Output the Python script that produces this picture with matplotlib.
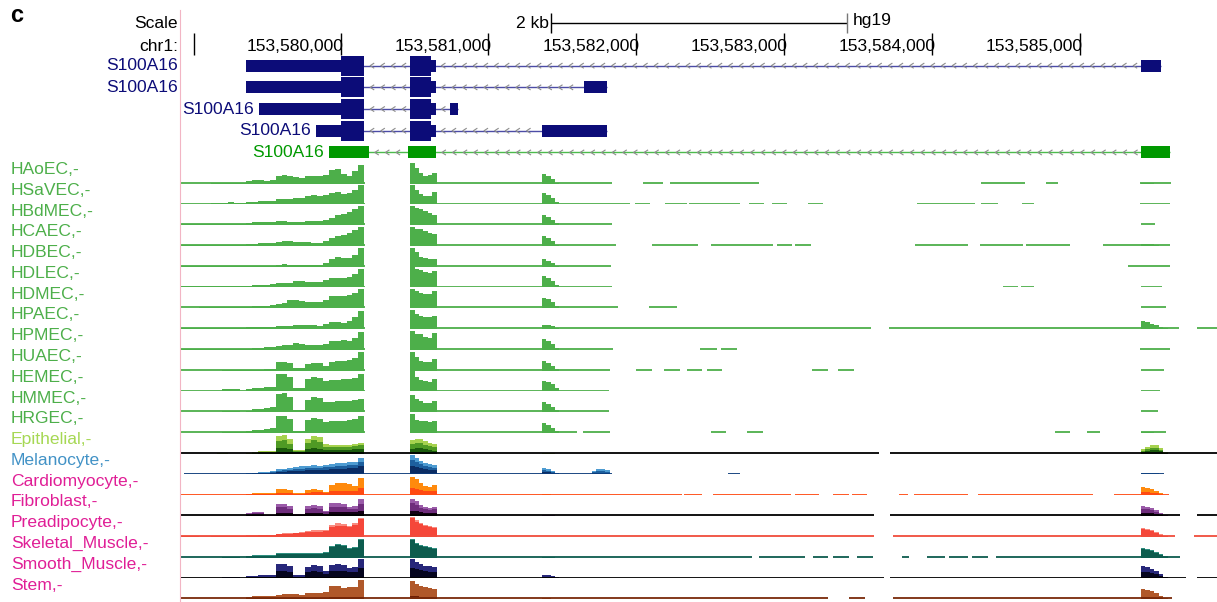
import numpy as np
import matplotlib.pyplot as plt
from matplotlib.collections import LineCollection

plt.rcParams["font.family"] = ["Liberation Sans", "DejaVu Sans"]

# browser window on chr1 (hg19)
WIN_START = 153578913
WIN_END = 153585929
ORIGIN = 153580000          # baseline runs below are bp offsets from here

ruler_ticks = [153580000, 153581000, 153582000, 153583000, 153584000, 153585000]
window_mark = 153579005
scale_bar_start = 153581424
scale_bar_len = 2000

# S100A16 transcripts (UTR / coding blocks)
tx_names = ["S100A16", "S100A16", "S100A16", "S100A16", "S100A16"]
tx_utr = [
    [(153579358, 153580000), (153580610, 153580642), (153585418, 153585550)],
    [(153579358, 153580000), (153580610, 153580642), (153581646, 153581805)],
    [(153579447, 153580000), (153580610, 153580642), (153580740, 153580792)],
    [(153579833, 153580000), (153580610, 153580642), (153581359, 153581805)],
    [(153579921, 153580191), (153580455, 153580645), (153585418, 153585611)],
]
tx_cds = [
    [(153580000, 153580160), (153580468, 153580610)],
    [(153580000, 153580160), (153580468, 153580610)],
    [(153580000, 153580160), (153580468, 153580610)],
    [(153580000, 153580160), (153580468, 153580610)],
    [],
]

endothelial = ["HAoEC", "HSaVEC", "HBdMEC", "HCAEC", "HDBEC", "HDLEC", "HDMEC",
               "HPAEC", "HPMEC", "HUAEC", "HEMEC", "HMMEC", "HRGEC"]
other_cells = ["Epithelial", "Melanocyte", "Cardiomyocyte", "Fibroblast",
               "Preadipocyte", "Skeletal_Muscle", "Smooth_Muscle", "Stem"]

# coverage bins: first bin start, bin size (bp)
bins = {
    "exon1": (153578920, 40),
    "exon2": (153580470, 30),
    "exon3": (153581360, 30),
    "tail": (153585415, 30),
    "extra": (153581700, 30),
}

exon1 = {
    "HAoEC": [0, 0, 0, 0, 0, 1, 1, 1, 1, 0.5, 1, 3, 4, 4, 3, 4, 8, 9, 8, 7, 6, 8, 8, 8, 9, 13, 14, 10, 8, 12, 18],
    "HSaVEC": [0, 0, 0, 0, 0.5, 1, 1, 1, 2, 1, 1, 2, 2, 3, 3, 3, 5, 5, 5, 6, 6, 8, 9, 8, 9, 11, 12, 10, 11, 14, 19],
    "HBdMEC": [1, 1, 1, 1, 1, 1, 1, 1, 1, 1, 1, 2, 3, 3, 3, 3, 4, 4, 3, 3, 3, 4, 4, 4, 5, 7, 10, 11, 13, 16, 19],
    "HCAEC": [1, 1, 1, 1, 1, 1, 1, 1, 1, 1, 1, 2, 2, 3, 3, 3, 4, 5, 5, 4, 4, 4, 3, 3, 5, 8, 10, 11, 13, 16, 19],
    "HDBEC": [1, 1, 1, 1, 1, 1, 1, 1, 1, 1, 1, 1, 1, 1, 1, 1, 2, 3, 2, 2, 2, 2, 2, 2, 4, 8, 10, 9, 9, 12, 19],
    "HDLEC": [1, 1, 1, 1, 1, 1, 1, 1, 1, 1, 1, 1, 2, 2, 2, 3, 4, 4, 4, 6, 6, 5, 5, 5, 7, 9, 9, 9, 10, 13, 18],
    "HDMEC": [0, 0, 0.5, 1, 1, 1, 1, 1, 1, 1, 1, 1, 2, 2, 2, 3, 4, 5, 8, 8, 7, 6, 6, 6, 8, 12, 12, 12, 13, 15, 19],
    "HPAEC": [1, 1, 1, 1, 1, 1, 1, 1, 1, 1, 1, 2, 2, 2, 2, 2, 3, 3, 3, 4, 4, 4, 4, 3, 5, 7, 7, 6, 8, 12, 18],
    "HPMEC": [1, 1, 1, 1, 1, 1, 1, 1, 1, 1, 1, 1, 2, 2, 3, 3, 4, 5, 5, 7, 6, 5, 5, 5, 6, 9, 9, 10, 9, 12, 18],
    "HUAEC": [0, 0, 0, 0, 0, 0, 0, 1, 1, 1, 1, 1, 1, 1, 2, 2, 9, 9, 8, 3, 3, 7, 8, 8, 5, 9, 10, 10, 11, 13, 19],
    "HEMEC": [0, 0, 0, 0, 0, 0, 0, 2, 2, 2, 0.5, 2, 3, 3, 4, 4, 17, 17, 14, 3, 3, 12, 14, 13, 10, 11, 11, 12, 12, 13, 17],
    "HMMEC": [0, 0, 0, 0, 0, 0, 0, 1, 1, 1, 0.5, 1, 3, 3, 4, 5, 18, 19, 15, 2, 2, 12, 15, 14, 10, 10, 11, 11, 11, 12, 13],
    "HRGEC": [0, 0, 0, 0, 0, 0, 0, 1, 1, 1, 1, 2, 3, 3, 4, 5, 17, 17, 14, 2, 2, 13, 15, 14, 11, 12, 12, 12, 13, 14, 17],
    "Epithelial": [
        [0, 0, 0, 0, 0, 0, 1, 1, 0, 0, 0, 1, 2, 3, 3, 3, 18, 19, 15, 4, 4, 15, 18, 17, 10, 9, 9, 9, 9, 10, 11],
        [0, 0, 0, 0, 0, 0, 0, 0, 0, 0, 0, 0, 1, 2, 2, 2, 13, 14, 10, 3, 3, 11, 14, 12, 7, 7, 7, 7, 7, 8, 9],
        [0, 0, 0, 0, 0, 0, 0, 0, 0, 0, 0, 0, 0, 1, 1, 1, 6, 6, 5, 2, 2, 5, 6, 5, 4, 4, 4, 4, 4, 5, 5]],
    "Melanocyte": [
        [0, 0, 0, 0, 0, 0, 0, 0, 0, 0, 0, 1, 1, 2, 2, 3, 5, 5, 6, 7, 8, 8, 9, 8, 9, 10, 11, 11, 12, 12, 16],
        [0, 0, 0, 0, 0, 0, 0, 0, 0, 0, 0, 0, 1, 1, 1, 2, 3, 4, 4, 5, 5, 6, 6, 6, 7, 7, 8, 8, 9, 9, 12],
        [0, 0, 0, 0, 0, 0, 0, 0, 0, 0, 0, 0, 0, 1, 1, 1, 2, 2, 3, 3, 3, 4, 4, 4, 4, 5, 5, 5, 6, 6, 8]],
    "Cardiomyocyte": [
        [0, 0, 0, 0, 0, 0, 0, 0, 0, 0, 0, 1, 2, 2, 2, 2, 6, 6, 5, 2, 2, 5, 6, 5, 3, 10, 12, 12, 11, 9, 17],
        [0, 0, 0, 0, 0, 0, 0, 0, 0, 0, 0, 1, 1, 1, 1, 1, 2, 2, 2, 1, 1, 2, 3, 3, 2, 4, 4, 4, 4, 4, 7]],
    "Fibroblast": [
        [0, 0, 0, 0, 0, 0, 0, 0, 0, 0, 0, 3, 4, 4, 1, 1, 12, 12, 10, 2, 2, 10, 11, 10, 5, 13, 13, 12, 9, 10, 17],
        [0, 0, 0, 0, 0, 0, 0, 0, 0, 0, 0, 2, 3, 3, 1, 1, 9, 9, 7, 2, 2, 7, 8, 7, 4, 9, 9, 9, 7, 7, 12],
        [0, 0, 0, 0, 0, 0, 0, 0, 0, 0, 0, 1, 1, 1, 0, 0, 3, 3, 3, 1, 1, 3, 3, 3, 2, 4, 4, 4, 4, 4, 5]],
    "Preadipocyte": [
        [1, 1, 1, 1, 1, 1, 1, 1, 1, 1, 1, 2, 2, 2, 2, 2, 3, 4, 4, 4, 5, 6, 7, 7, 7, 12, 14, 13, 11, 14, 19],
        [1, 1, 1, 0, 0, 1, 1, 1, 1, 1, 1, 1, 1, 2, 2, 2, 3, 3, 3, 4, 4, 5, 5, 5, 6, 10, 11, 11, 10, 12, 18]],
    "Skeletal_Muscle": [
        [0, 0, 0, 0, 0, 0, 0, 1, 1, 1, 0, 2, 3, 3, 3, 3, 5, 5, 5, 5, 5, 5, 5, 5, 6, 12, 14, 13, 10, 11, 19],
        [0, 0, 0, 0, 0, 0, 0, 1, 1, 1, 0, 2, 2, 2, 2, 2, 4, 4, 4, 4, 4, 4, 4, 4, 5, 11, 13, 12, 9, 10, 18]],
    "Smooth_Muscle": [
        [0, 0, 0, 0, 0, 0, 0, 1, 1, 1, 0, 2, 2, 3, 3, 3, 14, 14, 12, 3, 3, 11, 13, 12, 7, 13, 14, 13, 10, 11, 19],
        [0, 0, 0, 0, 0, 0, 0, 0, 0, 0, 0, 1, 1, 1, 1, 1, 7, 7, 6, 1, 1, 6, 7, 6, 4, 7, 7, 7, 6, 6, 10]],
    "Stem": [
        [0, 0, 0, 0, 0, 0, 0, 0, 0, 0, 0, 2, 3, 3, 3, 3, 4, 5, 5, 5, 4, 6, 6, 6, 7, 13, 13, 11, 12, 12, 19],
        [0, 0, 0, 0, 0, 0, 0, 0, 0, 0, 0, 1, 1, 1, 1, 1, 1, 1, 1, 1, 1, 1, 1, 1, 1, 2, 2, 2, 2, 2, 2]],
}

exon2 = {
    "HAoEC": [20, 15, 11, 8, 9, 11],
    "HSaVEC": [19, 14, 10, 8, 8, 12],
    "HBdMEC": [19, 17, 16, 14, 12, 10],
    "HCAEC": [19, 17, 17, 15, 13, 12],
    "HDBEC": [19, 15, 10, 9, 8, 8],
    "HDLEC": [20, 18, 17, 15, 14, 16],
    "HDMEC": [19, 17, 15, 14, 14, 17],
    "HPAEC": [19, 15, 13, 12, 12, 13],
    "HPMEC": [19, 16, 16, 13, 12, 17],
    "HUAEC": [19, 14, 10, 9, 9, 12],
    "HEMEC": [20, 14, 11, 10, 9, 12],
    "HMMEC": [17, 13, 11, 9, 9, 11],
    "HRGEC": [19, 13, 12, 12, 11, 12],
    "Epithelial": [[14, 15, 15, 13, 11, 10], [10, 11, 11, 9, 8, 7], [5, 6, 6, 5, 4, 3]],
    "Melanocyte": [[19, 16, 13, 11, 10, 9], [14, 12, 10, 8, 7, 6], [8, 7, 6, 5, 4, 4]],
    "Cardiomyocyte": [[18, 16, 12, 9, 8, 10], [7, 6, 5, 4, 4, 4]],
    "Fibroblast": [[17, 15, 11, 9, 8, 9], [13, 11, 8, 7, 6, 7], [5, 5, 4, 3, 3, 3]],
    "Preadipocyte": [[20, 17, 14, 12, 11, 10], [19, 15, 13, 11, 10, 9]],
    "Skeletal_Muscle": [[19, 15, 13, 12, 11, 10], [18, 14, 12, 11, 10, 9]],
    "Smooth_Muscle": [[19, 16, 14, 12, 12, 11], [10, 9, 8, 7, 6, 6]],
    "Stem": [[18, 15, 13, 12, 11, 10], [3, 3, 2, 2, 2, 2]],
}

exon3 = {
    "HAoEC": [10, 8, 5, 1],
    "HSaVEC": [11, 9, 6, 2],
    "HBdMEC": [10, 8, 5, 2],
    "HCAEC": [10, 8, 5, 1],
    "HDBEC": [8, 6, 4, 1],
    "HDLEC": [11, 9, 6, 2],
    "HDMEC": [10, 9, 6, 2],
    "HPAEC": [4, 4, 3, 1],
    "HPMEC": [11, 9, 6, 2],
    "HUAEC": [10, 8, 5, 2],
    "HEMEC": [10, 9, 7, 3],
    "HMMEC": [10, 8, 5, 2],
    "HRGEC": [10, 8, 5, 2],
    "Epithelial": [[1, 1, 1, 0]],
    "Melanocyte": [[6, 5, 3, 1], [4, 3, 2, 1], [2, 2, 1, 0]],
    "Cardiomyocyte": [[1, 1, 0, 0]],
    "Fibroblast": [[1, 1, 1, 0]],
    "Skeletal_Muscle": [[1, 1, 1, 0]],
    "Smooth_Muscle": [[3, 3, 2, 1], [1, 1, 1, 0]],
    "Stem": [[1, 1, 0, 0]],
}

tail = {
    "HAoEC": [1, 1, 1, 0, 0, 0],
    "HCAEC": [2, 2, 2, 1, 0, 0],
    "HPAEC": [8, 7, 5, 4, 2, 1],
    "HRGEC": [1, 1, 1, 0, 0, 0],
    "Epithelial": [[5, 7, 9, 9, 6, 2], [3, 5, 6, 6, 4, 1], [2, 3, 4, 4, 3, 1]],
    "Melanocyte": [[1, 1, 1, 1, 0, 0]],
    "Cardiomyocyte": [[8, 7, 6, 4, 2, 0], [3, 3, 2, 2, 1, 0]],
    "Fibroblast": [[10, 9, 8, 6, 3, 1], [7, 7, 6, 4, 2, 1], [3, 3, 3, 2, 1, 0]],
    "Preadipocyte": [[9, 8, 7, 5, 3, 1], [8, 7, 6, 4, 2, 1]],
    "Skeletal_Muscle": [[10, 9, 8, 6, 4, 2], [9, 8, 7, 5, 3, 1]],
    "Smooth_Muscle": [[12, 11, 9, 7, 4, 1], [6, 6, 5, 4, 2, 1]],
    "Stem": [[10, 9, 8, 6, 3, 1], [2, 2, 1, 1, 1, 0]],
}

extra = {
    "Melanocyte": [[3, 5, 5, 4], [2, 3, 3, 2]],
}

# stretches where a track has (near-zero) coverage
runs = {
    "HAoEC": [(-1080, 166), (469, 1835), (2045, 2181), (2228, 2830), (4333, 4631), (4772, 4854), (5408, 5618)],
    "HSaVEC": [(-1080, 166), (469, 1957), (1991, 2093), (2194, 2343), (2357, 2702), (2762, 2864), (2918, 3020),
               (3162, 3264), (3900, 4292), (4333, 4448), (4610, 4691), (5408, 5611)],
    "HBdMEC": [(-1080, 166), (469, 1835), (5415, 5510)],
    "HCAEC": [(-1080, 166), (469, 1863), (2106, 2418), (2506, 2925), (2952, 3054), (3074, 3183), (3886, 4245),
              (4326, 4617), (4637, 4935), (5158, 5611)],
    "HDBEC": [(-1080, 166), (469, 1829), (5327, 5611)],
    "HDLEC": [(-1080, 166), (469, 1835), (4482, 4583), (4603, 4691), (5415, 5557)],
    "HDMEC": [(-1080, 166), (469, 1876), (2086, 2276), (5415, 5584)],
    "HPAEC": [(-1080, 166), (469, 3588), (3711, 5672), (5794, 5929)],
    "HPMEC": [(-1080, 166), (469, 1842), (2431, 2546), (2573, 2681), (5408, 5611)],
    "HUAEC": [(-1080, 166), (469, 1822), (1998, 2106), (2187, 2296), (2343, 2445), (2479, 2580), (3189, 3297),
              (3365, 3473), (5415, 5571)],
    "HEMEC": [(-1080, 166), (469, 1815), (5415, 5544)],
    "HMMEC": [(-1080, 166), (469, 1815), (5415, 5530)],
    "HRGEC": [(-1080, 166), (469, 1599), (1639, 1822), (2506, 2607), (2749, 2857), (4833, 4935), (5050, 5138),
              (5415, 5584)],
    "Epithelial": [(-1080, 3643), (3717, 5929)],
    "Melanocyte": [(-1060, 1835), (2620, 2702), (5415, 5571)],
    "Cardiomyocyte": [(-1080, 2309), (2323, 2445), (2519, 3047), (3074, 3236), (3331, 3440), (3460, 3561),
                      (3778, 3839), (3880, 4245), (4313, 5090), (5232, 5605)],
    "Fibroblast": [(-1080, 3609), (3717, 5679), (5794, 5929)],
    "Preadipocyte": [(-1080, 3609), (3738, 5645), (5774, 5929)],
    "Skeletal_Muscle": [(-1080, 2783), (2830, 3142), (3196, 3297), (3331, 3440), (3494, 3602), (3799, 3846),
                        (3968, 4089), (4116, 4245), (4272, 4380), (4434, 5679)],
    "Smooth_Muscle": [(-1080, 3677), (3717, 5720), (5794, 5929)],
    "Stem": [(-1080, 3297), (3440, 3548), (3738, 5625)],
}

# colours
ENDO_GREEN = "#4daf4a"
NAVY = "#0c0c78"
GENE_GREEN = "#009900"
layer_colors = {
    "Epithelial": ["#a6d24e", "#4f9a24", "#1b5a0c"],
    "Melanocyte": ["#4d9bd1", "#1d5f9e", "#0b2c63"],
    "Cardiomyocyte": ["#ff8a0d", "#ff4a12"],
    "Fibroblast": ["#9a5aa8", "#6f2d7c", "#140014"],
    "Preadipocyte": ["#f98a7e", "#f5473a"],
    "Skeletal_Muscle": ["#2f8f80", "#0d5c4e"],
    "Smooth_Muscle": ["#27277a", "#05051e"],
    "Stem": ["#b0582a", "#6e1f05"],
}
baseline_colors = {
    "Epithelial": "#000000", "Melanocyte": "#0b3a7a", "Cardiomyocyte": "#ff4a12",
    "Fibroblast": "#000000", "Preadipocyte": "#f04c3c", "Skeletal_Muscle": "#0d5c4e",
    "Smooth_Muscle": "#000000", "Stem": "#7a2a0a",
}
label_colors = {"Epithelial": "#a6d854", "Melanocyte": "#4292c6"}
MAGENTA = "#e01e96"

W, H = 1217, 602
LEFT = 180
FS = 12.6

fig = plt.figure(figsize=(W / 100, H / 100), dpi=100)


def fx(px):
    return px / W


def fy(py):
    return 1 - py / H


def strip(top, bottom):
    ax = fig.add_axes([fx(LEFT), fy(bottom), fx(W - LEFT), (bottom - top) / H])
    ax.set_xlim(WIN_START, WIN_END)
    ax.axis("off")
    return ax


def bp_to_px(pos):
    return LEFT + (pos - WIN_START) / (WIN_END - WIN_START) * (W - LEFT)


# ---- ruler ----
rax = strip(0, 56)
rax.set_ylim(56, 0)
rax.vlines(ruler_ticks, 33, 55, color="black", lw=1)
for t in ruler_ticks:
    rax.text(t + 22, 46.5, f"{t:,}", ha="right", va="center", fontsize=FS)
rax.vlines([window_mark], 33, 55, color="black", lw=1)
sb_end = scale_bar_start + scale_bar_len
rax.hlines(22.7, scale_bar_start, sb_end, color="black", lw=1)
rax.vlines([scale_bar_start], 13, 33, color="black", lw=1)
rax.vlines([sb_end], 13, 33, color="#777777", lw=1)
rax.text(scale_bar_start - 14, 24, f"{scale_bar_len // 1000} kb", ha="right", va="center", fontsize=FS)
rax.text(sb_end + 40, 20, "hg19", ha="left", va="center", fontsize=FS)

fig.text(fx(178), fy(24), "Scale", ha="right", va="center", fontsize=FS)
fig.text(fx(178), fy(46.5), "chr1:", ha="right", va="center", fontsize=FS)
fig.text(fx(10), fy(16), "c", ha="left", va="center", fontsize=17, fontweight="bold")

# ---- gene models ----
GENE_TOP = 54.8
ROW_H = 21.7
gax = strip(GENE_TOP, GENE_TOP + len(tx_names) * ROW_H)
gax.set_ylim(len(tx_names), 0)
chevrons = []
for r, name in enumerate(tx_names):
    y = r + 0.5
    is_green = not tx_cds[r]
    col = GENE_GREEN if is_green else NAVY
    line_col = "#4cbb4c" if is_green else "#4c4ca6"
    blocks = sorted(tx_utr[r] + tx_cds[r])
    start = min(b[0] for b in blocks)
    end = max(b[1] for b in blocks)
    gax.hlines(y, start, end, color=line_col, lw=1.0, zorder=1)

    # arrows inside the introns
    merged = []
    for s, e in blocks:
        if merged and s <= merged[-1][1]:
            merged[-1][1] = max(merged[-1][1], e)
        else:
            merged.append([s, e])
    for (s0, e0), (s1, e1) in zip(merged[:-1], merged[1:]):
        for x in np.arange(e0 + 40, s1 - 40, 72):
            chevrons.append([(x + 27, y - 0.12), (x, y), (x + 27, y + 0.12)])

    thin_h = 12 / ROW_H
    thick_h = 20 / ROW_H
    gax.broken_barh([(s, e - s) for s, e in tx_utr[r]], (y - thin_h / 2, thin_h),
                    facecolor=col, edgecolor="none", zorder=3)
    if tx_cds[r]:
        gax.broken_barh([(s, e - s) for s, e in tx_cds[r]], (y - thick_h / 2, thick_h),
                        facecolor=col, edgecolor="none", zorder=3)

    # name sits next to the transcript when there is room, else in the label column
    if bp_to_px(start) - 78 > LEFT:
        gax.text(start - 34, y, name, ha="right", va="center", color=col, fontsize=FS)
    else:
        fig.text(fx(178), fy(GENE_TOP + y * ROW_H), name, ha="right", va="center",
                 color=col, fontsize=FS)
gax.add_collection(LineCollection(chevrons, colors="#8c8c8c", linewidths=0.8, zorder=2))

# ---- coverage tracks ----
FIRST_BASE = 183.5
STEP = 20.78
region_data = {"exon1": exon1, "exon2": exon2, "exon3": exon3, "tail": tail, "extra": extra}
for i, name in enumerate(endothelial + other_cells):
    base = FIRST_BASE + i * STEP
    ax = strip(base - STEP, base)
    ax.set_ylim(0, STEP)
    colors = layer_colors.get(name, [ENDO_GREEN])
    line_col = baseline_colors.get(name, ENDO_GREEN)
    for s, e in runs[name]:
        ax.hlines(0.7, ORIGIN + s, ORIGIN + e, color=line_col, lw=1.3)
    for region, (first, size) in bins.items():
        vals = region_data[region].get(name)
        if vals is None:
            continue
        layers = vals if isinstance(vals[0], list) else [vals]
        for layer, c in zip(layers, colors):
            edges = first + size * np.arange(len(layer) + 1)
            ax.stairs(layer, edges, baseline=0, fill=True, color=c, lw=0)

    if name in endothelial:
        lab_col = ENDO_GREEN
    else:
        lab_col = label_colors.get(name, MAGENTA)
    fig.text(fx(11), fy(base - 14), name + ",-", ha="left", va="center",
             color=lab_col, fontsize=FS)

# divider between labels and data
fig.add_artist(plt.Line2D([fx(179.5), fx(179.5)], [fy(10), 0], color="#f2b5c4", lw=0.8))

fig.savefig("out.png", dpi=100)
